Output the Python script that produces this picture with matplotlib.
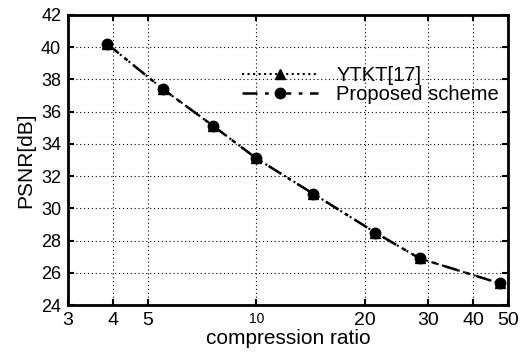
import matplotlib
matplotlib.use("Agg")
import matplotlib.pyplot as plt
from matplotlib.ticker import FixedLocator, NullLocator

# ----- data -----
ratio = [3.85, 5.5, 7.6, 10.0, 14.4, 21.4, 28.4, 47.5]
psnr_ytkt = [40.2, 37.4, 35.1, 33.1, 30.9, 28.5, 26.9, 25.35]
psnr_proposed = [40.2, 37.4, 35.1, 33.1, 30.9, 28.5, 26.9, 25.35]

x_ticks = [3, 4, 5, 10, 20, 30, 40, 50]
x_tick_labels = ["3", "4", "5", "10", "20", "30", "40", "50"]
y_ticks = [24, 26, 28, 30, 32, 34, 36, 38, 40, 42]

plt.rcParams["font.family"] = ["Liberation Sans", "DejaVu Sans"]

fig = plt.figure(figsize=(5.2, 3.62), dpi=100)
ax = fig.add_axes([0.131, 0.157, 0.846, 0.802])

ax.plot(ratio, psnr_ytkt, color="black", linestyle=":", linewidth=1.5,
        marker="^", markersize=7.5, label="YTKT[17]")
ax.plot(ratio, psnr_proposed, color="black", linestyle=(0, (6, 3, 1.5, 3)),
        linewidth=1.8, marker="o", markersize=7.5, label="Proposed scheme")

ax.set_xscale("log")
ax.set_xlim(3, 50)
ax.set_ylim(24, 42)
ax.xaxis.set_major_locator(FixedLocator(x_ticks))
ax.xaxis.set_minor_locator(NullLocator())
ax.set_xticklabels(x_tick_labels)
ax.set_yticks(y_ticks)

for lbl in ax.get_xticklabels():
    lbl.set_fontsize(14)
    if lbl.get_text() == "10":
        lbl.set_fontsize(10)
for lbl in ax.get_yticklabels():
    lbl.set_fontsize(13)

ax.tick_params(direction="in", length=4, width=1.5, top=True, right=True, pad=5)
ax.grid(True, color="black", linestyle=(0, (1, 2.5)), linewidth=0.8)

for s in ax.spines.values():
    s.set_linewidth(2)

ax.set_xlabel("compression ratio", fontsize=15, labelpad=0)
ax.set_ylabel("PSNR[dB]", fontsize=15, labelpad=4)

ax.legend(loc="upper right", bbox_to_anchor=(1.0, 0.855), frameon=False,
          fontsize=14.5, handlelength=3.8, borderaxespad=0.05, labelspacing=0.0,
          handletextpad=0.9)

fig.savefig("out.png", dpi=100)
